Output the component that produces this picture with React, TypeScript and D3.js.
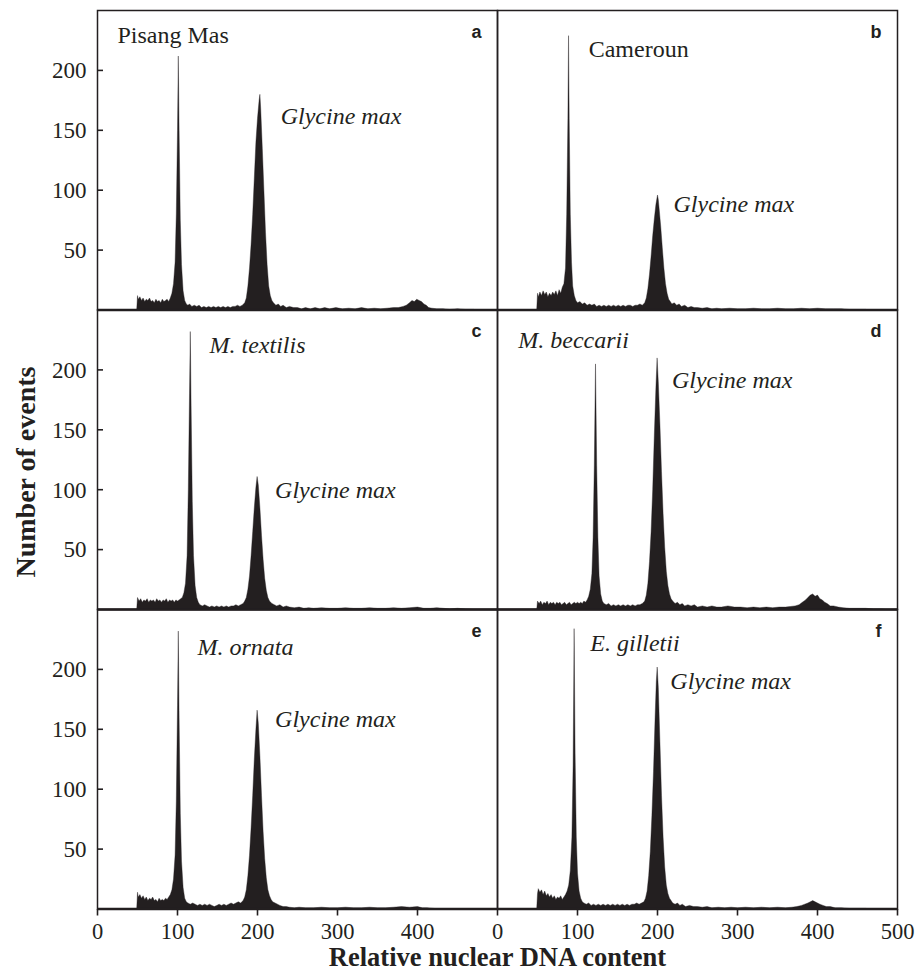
import React, { useEffect, useRef } from 'react';
import * as d3 from 'd3';

// flow cytometry histograms, [channel, events]
const histA: [number, number][] = [
  [49, 0], [50, 12], [51, 9], [53, 11], [55, 8], [57, 10], [59, 7], [61, 9], [63, 8], [65, 10], [67, 7], [69, 8], [71, 6], [73, 9], [75, 7], [77, 8], [79, 6], [81, 9], [83, 7], [85, 8], [87, 9], [89, 7], [91, 10], [93, 14], [95, 22], [97, 40], [98.5, 80], [100, 150], [101, 212], [102, 150], [103.5, 75], [105, 38], [107, 16], [109, 8], [111, 5], [113, 4], [115, 5], [118, 3], [121, 4], [124, 3], [127, 4], [130, 2], [133, 3], [136, 2], [139, 3], [142, 2], [145, 3], [148, 2], [151, 3], [154, 2], [157, 3], [160, 2], [163, 3], [166, 2], [169, 3], [172, 3], [175, 4], [178, 3], [181, 4], [184, 6], [186, 10], [188, 20], [190, 35], [192, 55], [194, 80], [196, 110], [198, 140], [200, 160], [202, 175], [203, 180], [204, 168], [206, 135], [208, 100], [210, 65], [212, 38], [214, 20], [216, 12], [218, 8], [220, 6], [223, 4], [226, 5], [229, 3], [232, 4], [236, 2], [240, 3], [245, 2], [250, 2], [255, 1], [260, 2], [266, 1], [272, 2], [278, 1], [284, 2], [290, 1], [298, 2], [306, 1], [314, 1.5], [322, 1], [330, 2], [338, 1], [346, 1.5], [354, 1], [362, 1.5], [370, 2], [376, 2], [382, 3], [386, 4], [390, 6], [393, 8], [396, 7], [399, 9], [402, 8], [405, 7], [408, 5], [411, 4], [414, 2], [418, 1.5], [424, 1], [432, 1], [440, 0.5], [450, 1], [460, 0.5], [470, 0.5], [476, 0]
];
const histB: [number, number][] = [
  [49, 0], [50, 14], [51, 11], [53, 15], [55, 12], [57, 16], [59, 13], [61, 15], [63, 11], [65, 14], [67, 12], [69, 15], [71, 13], [73, 16], [75, 12], [77, 17], [79, 14], [81, 19], [83, 22], [85, 35], [86.5, 80], [88, 160], [88.8, 229], [89.6, 160], [91, 80], [92.5, 40], [94, 20], [96, 12], [98, 8], [100, 6], [103, 7], [106, 5], [109, 6], [112, 4], [115, 5], [118, 4], [121, 5], [124, 3], [127, 4], [130, 3], [133, 4], [136, 3], [139, 4], [142, 3], [145, 4], [148, 3], [151, 4], [154, 3], [157, 4], [160, 3], [163, 4], [166, 4], [169, 3], [172, 4], [175, 4], [178, 5], [181, 4], [184, 6], [186, 10], [188, 18], [190, 30], [192, 45], [194, 62], [196, 76], [198, 88], [200, 96], [201, 92], [202, 85], [204, 70], [206, 52], [208, 35], [210, 22], [212, 14], [214, 9], [216, 7], [218, 5], [221, 6], [224, 4], [227, 5], [230, 3], [234, 4], [238, 2], [242, 3], [246, 2], [250, 2], [256, 1.5], [262, 2], [268, 1], [274, 1.5], [280, 1], [290, 1.5], [300, 1], [310, 1], [320, 1.5], [330, 1], [340, 1], [350, 1.5], [360, 1], [370, 1], [380, 1.5], [390, 1], [400, 1.5], [410, 1], [420, 1], [430, 1], [440, 0.5], [450, 0.5], [460, 0.5], [465, 0]
];
const histC: [number, number][] = [
  [49, 0], [50, 10], [52, 7], [54, 9], [56, 6], [58, 8], [60, 7], [62, 9], [64, 6], [66, 8], [68, 7], [70, 8], [72, 6], [74, 9], [76, 7], [78, 8], [80, 6], [82, 8], [84, 7], [86, 9], [88, 6], [90, 8], [92, 7], [94, 8], [96, 6], [98, 8], [100, 7], [102, 8], [104, 9], [106, 10], [108, 14], [110, 22], [112, 45], [113.5, 100], [115, 180], [116, 232], [117, 170], [118.5, 90], [120, 45], [122, 20], [124, 10], [126, 6], [128, 4], [131, 3], [134, 4], [137, 3], [140, 2], [143, 3], [146, 2], [149, 3], [152, 2], [155, 3], [158, 2], [161, 3], [164, 2], [167, 3], [170, 3], [173, 4], [176, 3], [179, 4], [182, 5], [184, 7], [186, 10], [188, 17], [190, 28], [192, 45], [194, 65], [196, 85], [198, 102], [199.5, 111], [201, 104], [203, 85], [205, 62], [207, 42], [209, 26], [211, 16], [213, 10], [215, 7], [218, 5], [221, 4], [224, 3], [228, 4], [232, 2], [236, 3], [240, 2], [246, 1.5], [252, 2], [258, 1], [264, 1.5], [270, 1], [280, 1.5], [290, 1], [300, 1], [310, 1.5], [320, 1], [330, 1], [340, 1.5], [350, 1], [360, 1], [370, 1.5], [380, 1], [390, 1.5], [400, 2], [408, 1], [416, 1], [424, 1.5], [432, 1], [440, 0.5], [450, 1], [460, 0.5], [470, 0]
];
const histD: [number, number][] = [
  [49, 0], [50, 7], [52, 5], [54, 7], [56, 4], [58, 6], [60, 5], [62, 7], [64, 4], [66, 6], [68, 5], [70, 6], [72, 4], [74, 6], [76, 5], [78, 6], [80, 4], [82, 5], [84, 6], [86, 4], [88, 5], [90, 6], [92, 4], [94, 5], [96, 6], [98, 5], [100, 6], [102, 5], [104, 6], [106, 5], [108, 7], [110, 6], [112, 8], [114, 11], [116, 17], [118, 30], [119.5, 60], [121, 120], [122.5, 205], [124, 120], [125.5, 60], [127, 28], [129, 13], [131, 7], [133, 5], [136, 4], [139, 5], [142, 3], [145, 4], [148, 3], [151, 4], [154, 3], [157, 4], [160, 3], [163, 4], [166, 3], [169, 4], [172, 3], [175, 4], [178, 4], [181, 5], [184, 7], [186, 12], [188, 22], [190, 40], [192, 65], [194, 100], [196, 145], [198, 185], [199.5, 210], [201, 190], [203, 155], [205, 115], [207, 80], [209, 52], [211, 32], [213, 20], [215, 13], [217, 9], [219, 7], [222, 5], [225, 6], [228, 4], [231, 5], [234, 3], [238, 4], [242, 3], [246, 4], [250, 2], [256, 3], [262, 2], [268, 3], [274, 2], [280, 2], [288, 3], [296, 2], [304, 2], [312, 1.5], [320, 2], [328, 1.5], [336, 2], [344, 1.5], [352, 2], [360, 2], [366, 2.5], [372, 3], [377, 4], [381, 6], [385, 8], [388, 10], [391, 12], [394, 13], [397, 11], [400, 12], [403, 9], [406, 8], [409, 6], [412, 5], [416, 3], [420, 3], [426, 2], [432, 1.5], [440, 1], [450, 1], [460, 1], [470, 0.5], [480, 0.5], [485, 0]
];
const histE: [number, number][] = [
  [49, 0], [50, 14], [51, 10], [53, 12], [55, 9], [57, 11], [59, 8], [61, 10], [63, 7], [65, 9], [67, 8], [69, 10], [71, 7], [73, 8], [75, 6], [77, 9], [79, 7], [81, 8], [83, 7], [85, 9], [87, 8], [89, 10], [91, 12], [93, 16], [95, 25], [97, 45], [98.5, 90], [100, 170], [101, 232], [102, 160], [103.5, 80], [105, 40], [107, 18], [109, 9], [111, 6], [113, 5], [116, 4], [119, 5], [122, 4], [125, 3], [128, 4], [131, 3], [134, 4], [137, 3], [140, 4], [143, 3], [146, 2], [149, 3], [152, 4], [155, 3], [158, 4], [161, 3], [164, 4], [167, 5], [170, 4], [173, 5], [176, 6], [179, 5], [182, 7], [184, 10], [186, 16], [188, 28], [190, 45], [192, 68], [194, 95], [196, 125], [198, 150], [199.5, 166], [201, 155], [203, 128], [205, 95], [207, 65], [209, 42], [211, 26], [213, 16], [215, 11], [217, 8], [219, 6], [222, 5], [225, 4], [228, 3], [232, 2], [236, 2], [240, 1.5], [246, 1], [252, 1.5], [260, 1], [270, 1], [280, 1.5], [290, 1], [300, 1], [310, 1.5], [320, 1], [330, 1], [340, 1.5], [350, 1], [360, 1], [370, 1.5], [380, 2], [390, 1.5], [400, 2], [406, 1], [412, 1], [420, 0.5], [430, 0]
];
const histF: [number, number][] = [
  [49, 0], [50, 13], [51, 17], [53, 14], [55, 16], [57, 12], [59, 15], [61, 11], [63, 13], [65, 10], [67, 12], [69, 9], [71, 11], [73, 8], [75, 10], [77, 9], [79, 11], [81, 8], [83, 10], [85, 12], [87, 15], [89, 20], [91, 32], [93, 60], [94.5, 120], [95.8, 234], [97, 130], [98.5, 60], [100, 30], [102, 15], [104, 9], [106, 6], [108, 5], [111, 4], [114, 5], [117, 3], [120, 4], [123, 3], [126, 4], [129, 3], [132, 4], [135, 3], [138, 4], [141, 3], [144, 4], [147, 3], [150, 4], [153, 3], [156, 4], [159, 3], [162, 4], [165, 3], [168, 4], [171, 4], [174, 5], [177, 4], [180, 5], [183, 6], [185, 9], [187, 15], [189, 28], [191, 48], [193, 78], [195, 115], [197, 160], [198.5, 190], [199.6, 202], [201, 185], [203, 140], [205, 95], [207, 60], [209, 35], [211, 20], [213, 13], [215, 9], [217, 7], [219, 5], [222, 4], [225, 5], [228, 3], [231, 4], [235, 2], [240, 3], [245, 2], [250, 2], [256, 1.5], [262, 2], [268, 1], [276, 1.5], [284, 1], [292, 1.5], [300, 1], [310, 1.5], [320, 1], [330, 1.5], [340, 1], [350, 1.5], [360, 1], [368, 1.5], [374, 2], [380, 3], [384, 4], [388, 5], [391, 6], [394, 7], [397, 6], [400, 5], [403, 4], [407, 3], [411, 2], [416, 2], [422, 1], [430, 1], [440, 0.5], [450, 0.5], [460, 0.5], [470, 0]
];

const histograms = [histA, histB, histC, histD, histE, histF];
const panelLetters = ['a', 'b', 'c', 'd', 'e', 'f'];
const sampleNames = ['Pisang Mas', 'Cameroun', 'M. textilis', 'M. beccarii', 'M. ornata', 'E. gilletii'];
const sampleItalic = [false, false, true, true, true, true];
const standardName = 'Glycine max';
// label anchors in data units [channel, events]
const sampleLabelAt = [[25, 223], [114, 211], [140, 214], [26, 218], [125, 212], [116, 215]];
const standardLabelAt = [[229, 155], [220, 82], [222, 93], [218, 185], [222, 152], [216, 184]];
const yTicks = [50, 100, 150, 200];
const xTicks = [0, 100, 200, 300, 400, 500];
const xTitle = 'Relative nuclear DNA content';
const yTitle = 'Number of events';

const INK = '#231f20';
const SERIF = 'Liberation Serif, Times New Roman, Times, serif';
const SANS = 'Liberation Sans, Arial, sans-serif';

const App = () => {
  const svgRef = useRef<SVGSVGElement>(null);

  useEffect(() => {
    const svg = d3.select(svgRef.current);
    svg.selectAll('*').remove();

    const left = 97.5;
    const top = 10.5;
    const panelW = 400;
    const panelH = 299.5;

    const x = d3.scaleLinear().domain([0, 500]).range([0, panelW]);
    const y = d3.scaleLinear().domain([0, 250]).range([panelH, 0]);

    const area = d3.area<[number, number]>()
      .x((d) => x(d[0]))
      .y0(y(0))
      .y1((d) => y(d[1]));

    histograms.forEach((hist, i) => {
      const col = i % 2;
      const row = Math.floor(i / 2);
      const g = svg.append('g')
        .attr('transform', `translate(${left + col * panelW},${top + row * panelH})`);

      g.append('path')
        .datum(hist)
        .attr('d', area)
        .attr('fill', INK)
        .attr('stroke', INK)
        .attr('stroke-width', 0.4);

      g.append('rect')
        .attr('width', panelW)
        .attr('height', panelH)
        .attr('fill', 'none')
        .attr('stroke', INK)
        .attr('stroke-width', 1.5);

      g.append('line')
        .attr('x1', 0).attr('x2', panelW)
        .attr('y1', panelH).attr('y2', panelH)
        .attr('stroke', INK)
        .attr('stroke-width', 2.4);

      if (col === 0) {
        yTicks.forEach((t) => {
          g.append('line')
            .attr('x1', 0).attr('x2', 5.5)
            .attr('y1', y(t)).attr('y2', y(t))
            .attr('stroke', INK)
            .attr('stroke-width', 1.6);
          g.append('text')
            .attr('x', -11)
            .attr('y', y(t))
            .attr('dy', '0.34em')
            .attr('text-anchor', 'end')
            .attr('font-family', SERIF)
            .attr('font-size', 23)
            .attr('fill', INK)
            .text(t);
        });
      }

      if (row === 2) {
        const ticks = col === 0 ? xTicks.filter((t) => t < 500) : xTicks;
        ticks.forEach((t) => {
          g.append('line')
            .attr('x1', x(t)).attr('x2', x(t))
            .attr('y1', panelH).attr('y2', panelH + 6.5)
            .attr('stroke', INK)
            .attr('stroke-width', 1.6);
          g.append('text')
            .attr('x', x(t))
            .attr('y', panelH + 29.5)
            .attr('text-anchor', 'middle')
            .attr('font-family', SERIF)
            .attr('font-size', 22.5)
            .attr('fill', INK)
            .text(t);
        });
      }

      g.append('text')
        .attr('x', panelW - 16)
        .attr('y', 27)
        .attr('text-anchor', 'end')
        .attr('font-family', SANS)
        .attr('font-size', 18)
        .attr('font-weight', 'bold')
        .attr('fill', INK)
        .text(panelLetters[i]);

      g.append('text')
        .attr('x', x(sampleLabelAt[i][0]))
        .attr('y', y(sampleLabelAt[i][1]))
        .attr('font-family', SERIF)
        .attr('font-size', 24)
        .attr('font-style', sampleItalic[i] ? 'italic' : 'normal')
        .attr('fill', INK)
        .text(sampleNames[i]);

      g.append('text')
        .attr('x', x(standardLabelAt[i][0]))
        .attr('y', y(standardLabelAt[i][1]))
        .attr('font-family', SERIF)
        .attr('font-size', 24)
        .attr('font-style', 'italic')
        .attr('fill', INK)
        .text(standardName);
    });

    svg.append('text')
      .attr('x', left + panelW)
      .attr('y', 965.5)
      .attr('text-anchor', 'middle')
      .attr('font-family', SERIF)
      .attr('font-size', 26.5)
      .attr('font-weight', 'bold')
      .attr('fill', INK)
      .text(xTitle);

    svg.append('text')
      .attr('transform', 'translate(35,472) rotate(-90)')
      .attr('text-anchor', 'middle')
      .attr('font-family', SERIF)
      .attr('font-size', 28)
      .attr('font-weight', 'bold')
      .attr('fill', INK)
      .text(yTitle);
  }, []);

  return (
    <svg
      ref={svgRef}
      width={917}
      height={971}
      style={{ position: 'absolute', left: 0, top: 0, background: '#fff' }}
    />
  );
};

export default App;
